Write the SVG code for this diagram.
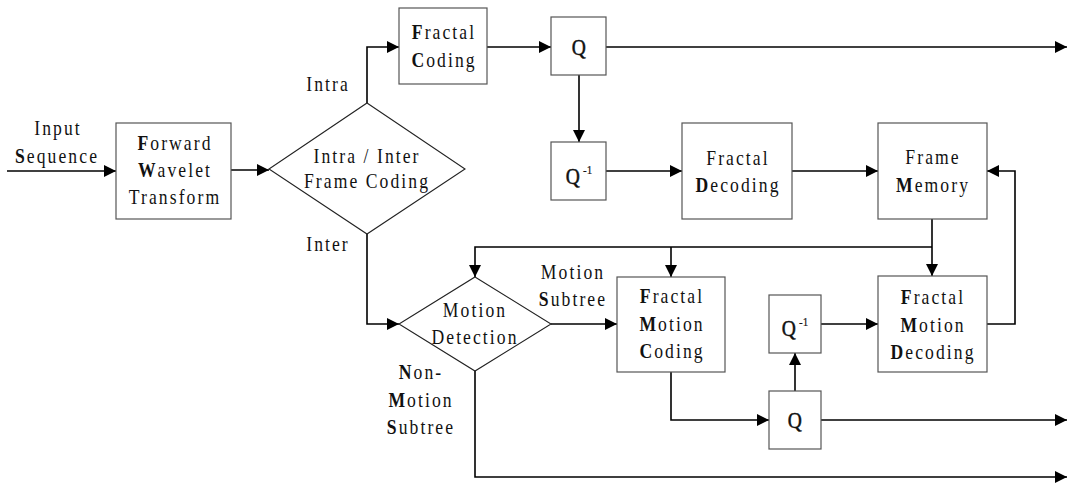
<svg xmlns="http://www.w3.org/2000/svg" width="1069" height="483" viewBox="0 0 1069 483">
  <style>
    .box { fill: #fff; stroke: #555; stroke-width: 1.2; }
    .dia { fill: none; stroke: #222; stroke-width: 1.1; }
    .wire { fill: none; stroke: #000; stroke-width: 1.6; }
    text { font-family: "Liberation Serif", "Times New Roman", serif; font-size: 22px; letter-spacing: 2.6px; fill: #111; text-anchor: middle; }
    .b { font-weight: bold; }
    .q { font-size: 23px; stroke: #111; stroke-width: 0.5; }
    .sup { font-size: 13px; letter-spacing: 0; stroke-width: 0.2; }
  </style>
  <defs>
    <marker id="arrow" viewBox="0 0 12 12" refX="12" refY="6" markerWidth="12" markerHeight="12" markerUnits="userSpaceOnUse" orient="auto">
      <path d="M0,0 L12,6 L0,12 Z" fill="#000"/>
    </marker>
  </defs>

  <!-- connectors -->
  <g id="connectors">
    <path class="wire" d="M7,171 H116" marker-end="url(#arrow)"/>
    <path class="wire" d="M231,170 H269" marker-end="url(#arrow)"/>
    <path class="wire" d="M367,103 V47 H399" marker-end="url(#arrow)"/>
    <path class="wire" d="M487,47 H551" marker-end="url(#arrow)"/>
    <path class="wire" d="M606,47 H1067" marker-end="url(#arrow)"/>
    <path class="wire" d="M579,75 V142" marker-end="url(#arrow)"/>
    <path class="wire" d="M606,171 H682" marker-end="url(#arrow)"/>
    <path class="wire" d="M792,171 H878" marker-end="url(#arrow)"/>
    <path class="wire" d="M367,234 V324 H399" marker-end="url(#arrow)"/>
    <path class="wire" d="M932,219 V276" marker-end="url(#arrow)"/>
    <path class="wire" d="M932,247 H475 V277" marker-end="url(#arrow)"/>
    <path class="wire" d="M671,247 V277" marker-end="url(#arrow)"/>
    <path class="wire" d="M551,324 H617" marker-end="url(#arrow)"/>
    <path class="wire" d="M821,324 H878" marker-end="url(#arrow)"/>
    <path class="wire" d="M987,324 H1015 V171 H987" marker-end="url(#arrow)"/>
    <path class="wire" d="M671,372 V420 H769" marker-end="url(#arrow)"/>
    <path class="wire" d="M795,391 V353" marker-end="url(#arrow)"/>
    <path class="wire" d="M821,420 H1067" marker-end="url(#arrow)"/>
    <path class="wire" d="M475,371 V477 H1067" marker-end="url(#arrow)"/>
  </g>

  <!-- edge labels (narrow serif: each line is squeezed horizontally) -->
  <g id="input-label">
    <text transform="translate(58,135) scale(0.8,1)">Input</text>
    <text transform="translate(57,163) scale(0.8,1)"><tspan class="b">S</tspan>equence</text>
  </g>
  <g id="intra-label"><text transform="translate(328,91) scale(0.8,1)">Intra</text></g>
  <g id="inter-label"><text transform="translate(328,251) scale(0.8,1)">Inter</text></g>
  <g id="motion-subtree-label">
    <text transform="translate(573,279) scale(0.8,1)">Motion</text>
    <text transform="translate(573,306) scale(0.8,1)"><tspan class="b">S</tspan>ubtree</text>
  </g>
  <g id="non-motion-label">
    <text transform="translate(421,379) scale(0.8,1)"><tspan class="b">N</tspan>on-</text>
    <text transform="translate(421,407) scale(0.8,1)"><tspan class="b">M</tspan>otion</text>
    <text transform="translate(421,434) scale(0.8,1)"><tspan class="b">S</tspan>ubtree</text>
  </g>

  <g id="forward-wavelet">
    <rect class="box" x="116" y="123" width="115" height="96"/>
    <text transform="translate(175,150) scale(0.8,1)"><tspan class="b">F</tspan>orward</text>
    <text transform="translate(175,177) scale(0.8,1)"><tspan class="b">W</tspan>avelet</text>
    <text transform="translate(175,204) scale(0.8,1)">Transform</text>
  </g>

  <g id="intra-inter">
    <path class="dia" d="M367,103 L465,169 L367,234 L269,169 Z"/>
    <text transform="translate(367,163) scale(0.8,1)">Intra / Inter</text>
    <text transform="translate(367,188) scale(0.8,1)">Frame Coding</text>
  </g>

  <g id="fractal-coding">
    <rect class="box" x="399" y="8" width="88" height="76"/>
    <text transform="translate(444,39) scale(0.8,1)"><tspan class="b">F</tspan>ractal</text>
    <text transform="translate(444,67) scale(0.8,1)"><tspan class="b">C</tspan>oding</text>
  </g>

  <g id="q-top">
    <rect class="box" x="551" y="17" width="55" height="58"/>
    <text class="q" transform="translate(580,55) scale(0.85,1)">Q</text>
  </g>

  <g id="q-inv-top">
    <rect class="box" x="551" y="142" width="55" height="58"/>
    <text class="q" transform="translate(579,184) scale(0.85,1)">Q<tspan class="sup" dx="1" dy="-10">-1</tspan></text>
  </g>

  <g id="fractal-decoding">
    <rect class="box" x="682" y="123" width="110" height="96"/>
    <text transform="translate(738,165) scale(0.8,1)">Fractal</text>
    <text transform="translate(738,192) scale(0.8,1)"><tspan class="b">D</tspan>ecoding</text>
  </g>

  <g id="frame-memory">
    <rect class="box" x="878" y="123" width="109" height="96"/>
    <text transform="translate(933,164) scale(0.8,1)">Frame</text>
    <text transform="translate(933,192) scale(0.8,1)"><tspan class="b">M</tspan>emory</text>
  </g>

  <g id="motion-detection">
    <path class="dia" d="M475,277 L551,324 L475,371 L399,324 Z"/>
    <text transform="translate(475,317) scale(0.8,1)">Motion</text>
    <text transform="translate(475,344) scale(0.8,1)">Detection</text>
  </g>

  <g id="fractal-motion-coding">
    <rect class="box" x="617" y="277" width="108" height="95"/>
    <text transform="translate(672,303) scale(0.8,1)"><tspan class="b">F</tspan>ractal</text>
    <text transform="translate(672,331) scale(0.8,1)"><tspan class="b">M</tspan>otion</text>
    <text transform="translate(672,358) scale(0.8,1)"><tspan class="b">C</tspan>oding</text>
  </g>

  <g id="q-inv-bottom">
    <rect class="box" x="769" y="295" width="52" height="58"/>
    <text class="q" transform="translate(795,336) scale(0.85,1)">Q<tspan class="sup" dx="1" dy="-10">-1</tspan></text>
  </g>

  <g id="fractal-motion-decoding">
    <rect class="box" x="878" y="276" width="109" height="96"/>
    <text transform="translate(933,304) scale(0.8,1)"><tspan class="b">F</tspan>ractal</text>
    <text transform="translate(933,332) scale(0.8,1)"><tspan class="b">M</tspan>otion</text>
    <text transform="translate(933,359) scale(0.8,1)"><tspan class="b">D</tspan>ecoding</text>
  </g>

  <g id="q-bottom">
    <rect class="box" x="769" y="391" width="52" height="58"/>
    <text class="q" transform="translate(796,428) scale(0.85,1)">Q</text>
  </g>
</svg>
